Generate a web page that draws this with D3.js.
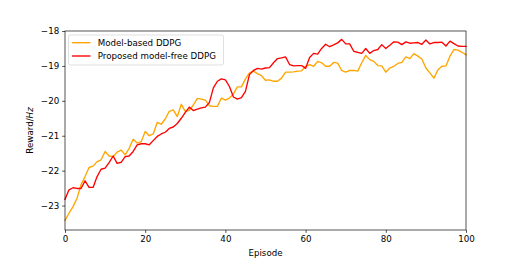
<!DOCTYPE html>
<html>
<head>
<meta charset="utf-8">
<script src="https://cdn.jsdelivr.net/npm/d3@7"></script>
<style>
html,body{margin:0;padding:0;background:#fff;}
svg{display:block;}
text{font-family:"DejaVu Sans",sans-serif;}
</style>
</head>
<body>
<script>
const episodes = d3.range(0, 101);
const modelBased = [
-23.42,-23.22,-23.03,-22.79,-22.40,-22.17,-21.91,-21.87,-21.74,-21.69,
-21.45,-21.58,-21.60,-21.47,-21.41,-21.55,-21.36,-21.10,-21.21,-21.17,
-20.88,-21.00,-20.95,-20.62,-20.67,-20.52,-20.30,-20.26,-20.45,-20.10,
-20.30,-20.27,-20.12,-19.93,-19.95,-19.98,-20.14,-20.16,-20.16,-19.92,
-19.98,-19.92,-19.80,-19.60,-19.60,-19.37,-19.20,-19.15,-19.22,-19.28,
-19.41,-19.40,-19.44,-19.44,-19.35,-19.18,-19.18,-19.17,-19.15,-19.14,
-19.01,-18.96,-19.01,-18.87,-18.91,-19.01,-19.01,-18.90,-18.92,-19.13,
-19.18,-19.13,-19.13,-19.15,-18.91,-18.70,-18.82,-18.87,-18.99,-19.00,
-19.18,-19.06,-19.01,-18.93,-18.90,-18.74,-18.79,-18.65,-18.72,-18.80,
-19.06,-19.20,-19.35,-19.11,-19.01,-19.00,-18.72,-18.53,-18.55,-18.61,
-18.68];
const modelFree = [
-22.82,-22.55,-22.49,-22.51,-22.51,-22.29,-22.48,-22.48,-22.17,-21.96,
-21.93,-21.77,-21.58,-21.79,-21.76,-21.60,-21.58,-21.45,-21.26,-21.23,
-21.23,-21.26,-21.14,-21.02,-20.95,-20.90,-20.79,-20.75,-20.65,-20.50,
-20.33,-20.18,-20.28,-20.24,-20.20,-20.18,-20.05,-19.63,-19.44,-19.37,
-19.40,-19.59,-19.89,-19.95,-19.91,-19.73,-19.25,-19.13,-19.07,-19.09,
-19.06,-19.05,-18.91,-18.79,-18.77,-18.74,-18.96,-19.00,-18.99,-18.99,
-19.07,-18.76,-18.64,-18.66,-18.50,-18.38,-18.45,-18.40,-18.34,-18.24,
-18.37,-18.37,-18.58,-18.61,-18.64,-18.50,-18.64,-18.56,-18.53,-18.39,
-18.50,-18.41,-18.31,-18.32,-18.39,-18.31,-18.35,-18.34,-18.33,-18.38,
-18.26,-18.37,-18.33,-18.33,-18.32,-18.43,-18.29,-18.36,-18.43,-18.44,
-18.44];
const xTicks = [0, 20, 40, 60, 80, 100];
const yTicks = [-23, -22, -21, -20, -19, -18];
const seriesNames = ["Model-based DDPG", "Proposed model-free DDPG"];
const seriesColors = ["#FFA500", "#FF0000"];

const W = 518, H = 259;
const m = {left: 65, right: 466, top: 31, bottom: 230};
const fs = 8.7;

const svg = d3.select("body").append("svg").attr("width", W).attr("height", H);

const x = d3.scaleLinear().domain([0, 100]).range([m.left, m.right]);
const y = d3.scaleLinear().domain([-23.7, -18]).range([m.bottom, m.top]);

const fmt = d => (d < 0 ? "\u2212" + Math.abs(d) : String(d));

const line = d3.line().x((d, i) => x(episodes[i])).y(d => y(d));

const plot = svg.append("g");
[modelBased, modelFree].forEach((s, k) => {
  plot.append("path").datum(s)
    .attr("d", line)
    .attr("fill", "none")
    .attr("stroke", seriesColors[k])
    .attr("stroke-width", 1.35)
    .attr("stroke-linejoin", "round")
    .attr("stroke-linecap", "square");
});

// axes
const xAxis = d3.axisBottom(x).tickValues(xTicks).tickFormat(fmt).tickSize(2.9).tickPadding(2.9);
const yAxis = d3.axisLeft(y).tickValues(yTicks).tickFormat(fmt).tickSize(2.9).tickPadding(2.9);
const gx = svg.append("g").attr("transform", `translate(0,${m.bottom})`).call(xAxis);
const gy = svg.append("g").attr("transform", `translate(${m.left},0)`).call(yAxis);
[gx, gy].forEach(g => {
  g.select(".domain").remove();
  g.selectAll(".tick line").attr("stroke", "#000").attr("stroke-width", 0.67);
  g.selectAll(".tick text").attr("font-size", fs).attr("fill", "#000").attr("font-family", "DejaVu Sans");
});

// spines
svg.append("rect")
  .attr("x", m.left).attr("y", m.top)
  .attr("width", m.right - m.left).attr("height", m.bottom - m.top)
  .attr("fill", "none").attr("stroke", "#000").attr("stroke-width", 0.67);

// labels
svg.append("text").attr("x", (m.left + m.right) / 2).attr("y", 255.5)
  .attr("text-anchor", "middle").attr("font-size", fs).text("Episode");
const yl = svg.append("text")
  .attr("transform", `translate(33,${(m.top + m.bottom) / 2}) rotate(-90)`)
  .attr("text-anchor", "middle").attr("font-size", fs);
yl.append("tspan").text("Reward/");
yl.append("tspan").attr("font-style", "italic").text("Hz");

// legend
const lg = svg.append("g");
lg.append("rect").attr("x", 68.5).attr("y", 35).attr("width", 155).attr("height", 30)
  .attr("rx", 2).attr("fill", "#fff").attr("fill-opacity", 0.8)
  .attr("stroke", "#d0d0d0").attr("stroke-width", 0.67);
seriesNames.forEach((n, k) => {
  const yy = 42.7 + k * 13.3;
  lg.append("line").attr("x1", 72).attr("x2", 90.5).attr("y1", yy).attr("y2", yy)
    .attr("stroke", seriesColors[k]).attr("stroke-width", 1.35);
  lg.append("text").attr("x", 97.7).attr("y", yy).attr("dy", "0.35em")
    .attr("font-size", fs).text(n);
});
</script>
</body>
</html>
